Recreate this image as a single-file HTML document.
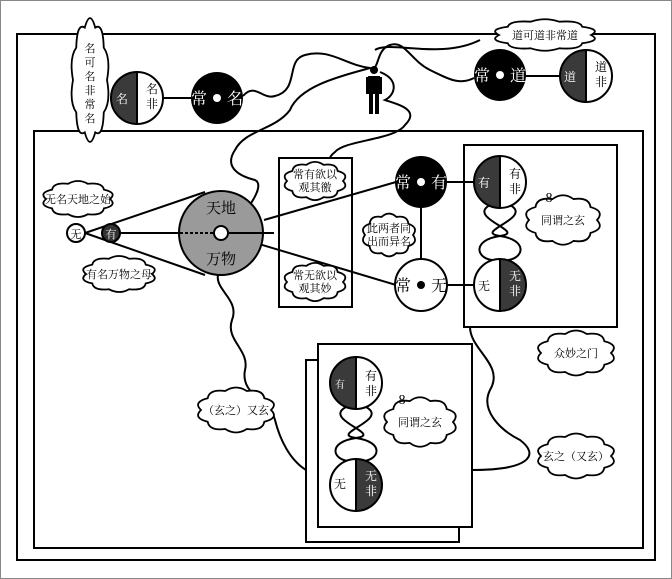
<!DOCTYPE html>
<html><head><meta charset="utf-8"><style>
html,body{margin:0;padding:0;background:#fff}
svg{display:block}
text{font-family:"Liberation Serif","Noto Serif CJK SC","Noto Sans CJK SC",serif;}
</style></head><body>
<svg width="672" height="579" viewBox="0 0 672 579" xmlns="http://www.w3.org/2000/svg">
<defs>
<path id="cl" vector-effect="non-scaling-stroke" fill="#fff" stroke="#000" stroke-width="1.8" d="M1,0 Q1.236,0.402 0.809,0.588 Q0.764,1.052 0.309,0.951 Q0,1.3 -0.309,0.951 Q-0.764,1.052 -0.809,0.588 Q-1.236,0.402 -1,0 Q-1.236,-0.402 -0.809,-0.588 Q-0.764,-1.052 -0.309,-0.951 Q0,-1.3 0.309,-0.951 Q0.764,-1.052 0.809,-0.588 Q1.236,-0.402 1,0 Z"/>
</defs>
<rect x="0.5" y="0.5" width="671" height="578" fill="#fff" stroke="#888" stroke-width="1"/>
<g fill="none" stroke="#000" stroke-width="2">
<rect x="17" y="34" width="638" height="526"/>
<rect x="34" y="131" width="609" height="417"/>
<rect x="279" y="158" width="73" height="149"/>
<rect x="464" y="145" width="153" height="182"/>
</g>
<rect x="306" y="360" width="153" height="182" fill="#fff" stroke="#000" stroke-width="2"/>
<rect x="318" y="344" width="154" height="183" fill="#fff" stroke="#000" stroke-width="2"/>

<g fill="none" stroke="#000" stroke-width="2">
<path d="M243,96 C255,82 262,100 275,96 C300,90 285,60 305,55 C330,48 345,65 370,68 C380,72 375,50 390,45 C405,40 410,60 430,70 C450,80 460,85 474,78"/>
<path d="M370,68 C345,75 300,85 290,110 C275,130 245,130 235,150 C225,165 235,175 255,180 C265,185 250,205 243,215"/>
<path d="M380,72 C400,80 395,95 385,100 C400,105 420,110 405,125 C395,140 345,140 335,152 C330,156 330,158 330,158"/>
<path d="M375,50 C390,40 440,60 480,40"/>
<path d="M218,275 C215,290 240,300 232,320 C225,340 250,350 245,370 C240,395 270,400 275,420 C280,440 290,460 306,470"/>
<path d="M470,327 C470,350 505,365 490,390 C480,410 500,430 520,440 C540,455 530,470 472,470"/>
<path d="M490,205 C466,218 528,232 500,236 C472,240 476,258 492,260"/>
<path d="M510,205 C534,218 472,232 500,236 C528,240 524,258 508,260"/>
<path d="M346,407 C322,420 384,434 356,438 C328,442 332,459 348,461"/>
<path d="M366,407 C390,420 328,434 356,438 C384,442 380,459 364,461"/>
</g>

<g stroke="#000" stroke-width="2" fill="none">
<line x1="163" y1="98" x2="191" y2="98"/>
<line x1="526" y1="76" x2="560" y2="76"/>
<line x1="85" y1="233" x2="205" y2="192"/>
<line x1="85" y1="233" x2="205" y2="275"/>
<line x1="120" y1="233" x2="180" y2="233"/>
<line x1="229" y1="233" x2="274" y2="233"/>
<line x1="264" y1="220" x2="396" y2="182"/>
<line x1="229" y1="235" x2="396" y2="285"/>
<line x1="421" y1="208" x2="421" y2="259"/>
<line x1="447" y1="182" x2="474" y2="182"/>
<line x1="447" y1="285" x2="474" y2="285"/>
</g>

<circle cx="221" cy="233" r="42" fill="#9a9a9a" stroke="#000" stroke-width="2"/>
<line x1="180" y1="233" x2="213" y2="233" stroke="#000" stroke-width="2" stroke-dasharray="3,2"/>
<line x1="229" y1="233" x2="263" y2="233" stroke="#000" stroke-width="2"/>
<circle cx="221" cy="233" r="7" fill="#fff" stroke="#000" stroke-width="2"/>
<text x="221" y="213" font-size="15" text-anchor="middle">天地</text>
<text x="221" y="264" font-size="15" text-anchor="middle">万物</text>

<circle cx="76" cy="233" r="9" fill="#fff" stroke="#000" stroke-width="2"/>
<text x="76" y="238" font-size="11" text-anchor="middle">无</text>
<circle cx="111" cy="233" r="9" fill="#333" stroke="#000" stroke-width="2"/>
<text x="111" y="238" font-size="11" text-anchor="middle" fill="#fff">有</text>

<g stroke="#000" stroke-width="2">
<path d="M137,72 A26,26 0 0 0 137,124 Z" fill="#3a3a3a"/>
<path d="M137,72 A26,26 0 0 1 137,124 Z" fill="#fff"/>
<path d="M586,50 A26,26 0 0 0 586,102 Z" fill="#3a3a3a"/>
<path d="M586,50 A26,26 0 0 1 586,102 Z" fill="#fff"/>
<path d="M500,156 A26,26 0 0 0 500,208 Z" fill="#3a3a3a"/>
<path d="M500,156 A26,26 0 0 1 500,208 Z" fill="#fff"/>
<path d="M500,259 A26,26 0 0 0 500,311 Z" fill="#fff"/>
<path d="M500,259 A26,26 0 0 1 500,311 Z" fill="#3a3a3a"/>
<path d="M356,357 A26,26 0 0 0 356,409 Z" fill="#3a3a3a"/>
<path d="M356,357 A26,26 0 0 1 356,409 Z" fill="#fff"/>
<path d="M356,459 A26,26 0 0 0 356,511 Z" fill="#fff"/>
<path d="M356,459 A26,26 0 0 1 356,511 Z" fill="#3a3a3a"/>
</g>
<g font-size="12">
<text x="122" y="103" fill="#fff" text-anchor="middle">名</text>
<text x="152" y="93" text-anchor="middle">名</text><text x="152" y="108" text-anchor="middle">非</text>
<text x="570" y="81" fill="#fff" text-anchor="middle">道</text>
<text x="601" y="71" text-anchor="middle">道</text><text x="601" y="86" text-anchor="middle">非</text>
<text x="484" y="187" fill="#fff" text-anchor="middle">有</text>
<text x="515" y="178" text-anchor="middle">有</text><text x="515" y="193" text-anchor="middle">非</text>
<text x="484" y="290" text-anchor="middle">无</text>
<text x="515" y="280" fill="#fff" text-anchor="middle">无</text><text x="515" y="295" fill="#fff" text-anchor="middle">非</text>
<text x="340" y="388" font-size="10" fill="#fff" text-anchor="middle">有</text>
<text x="371" y="380" text-anchor="middle">有</text><text x="371" y="395" text-anchor="middle">非</text>
<text x="340" y="488" text-anchor="middle">无</text>
<text x="371" y="480" fill="#fff" text-anchor="middle">无</text><text x="371" y="495" fill="#fff" text-anchor="middle">非</text>
</g>

<circle cx="217" cy="98" r="26" fill="#000"/>
<circle cx="217" cy="98" r="4" fill="#fff"/>
<text x="199" y="104" font-size="16" fill="#fff" text-anchor="middle">常</text>
<text x="235" y="104" font-size="16" fill="#fff" text-anchor="middle">名</text>
<circle cx="500" cy="75" r="26" fill="#000"/>
<circle cx="500" cy="75" r="4" fill="#fff"/>
<text x="482" y="81" font-size="16" fill="#fff" text-anchor="middle">常</text>
<text x="518" y="81" font-size="16" fill="#fff" text-anchor="middle">道</text>
<circle cx="421" cy="182" r="26" fill="#000"/>
<circle cx="421" cy="182" r="4" fill="#fff"/>
<text x="403" y="188" font-size="16" fill="#fff" text-anchor="middle">常</text>
<text x="439" y="188" font-size="16" fill="#fff" text-anchor="middle">有</text>
<circle cx="421" cy="285" r="26" fill="#fff" stroke="#000" stroke-width="2"/>
<circle cx="421" cy="285" r="4" fill="#000"/>
<text x="403" y="291" font-size="16" text-anchor="middle">常</text>
<text x="439" y="291" font-size="16" text-anchor="middle">无</text>

<g fill="#000">
<circle cx="374" cy="70" r="4"/>
<rect x="368" y="76" width="12" height="18"/>
<rect x="366" y="77" width="2" height="17"/>
<rect x="380" y="77" width="2" height="17"/>
<rect x="369" y="94" width="4" height="20"/>
<rect x="375" y="94" width="4" height="20"/>
</g>

<g>
<use href="#cl" transform="translate(90,80) scale(17,55)"/>
<use href="#cl" transform="translate(545,35) scale(46,14)"/>
<use href="#cl" transform="translate(78,199) scale(32,16)"/>
<use href="#cl" transform="translate(119,274) scale(33,16)"/>
<use href="#cl" transform="translate(315,181) scale(28,17)"/>
<use href="#cl" transform="translate(315,282) scale(28,17)"/>
<use href="#cl" transform="translate(389,235) scale(24,19)"/>
<use href="#cl" transform="translate(563,220) scale(34,22)"/>
<use href="#cl" transform="translate(576,353) scale(35,20)"/>
<use href="#cl" transform="translate(576,456) scale(35,20)"/>
<use href="#cl" transform="translate(236,410) scale(35,20)"/>
<use href="#cl" transform="translate(420,422) scale(33,22)"/>
</g>
<g font-size="11" text-anchor="middle">
<text x="90" y="52">名</text><text x="90" y="66">可</text><text x="90" y="80">名</text><text x="90" y="94">非</text><text x="90" y="108">常</text><text x="90" y="122">名</text>
<text x="545" y="39">道可道非常道</text>
<text x="78" y="203">无名天地之始</text>
<text x="119" y="278">有名万物之母</text>
<text x="315" y="178">常有欲以</text><text x="315" y="191">观其徼</text>
<text x="315" y="279">常无欲以</text><text x="315" y="292">观其妙</text>
<text x="389" y="232">此两者同</text><text x="389" y="245">出而异名</text>
<text x="563" y="224">同谓之玄</text>
<text x="576" y="357">众妙之门</text>
<text x="576" y="460">玄之（又玄）</text>
<text x="236" y="414">（玄之）又玄</text>
<text x="420" y="426">同谓之玄</text>
<text x="549" y="202" font-size="14">8</text>
<text x="402" y="404" font-size="14">8</text>
</g>
</svg>
</body></html>
